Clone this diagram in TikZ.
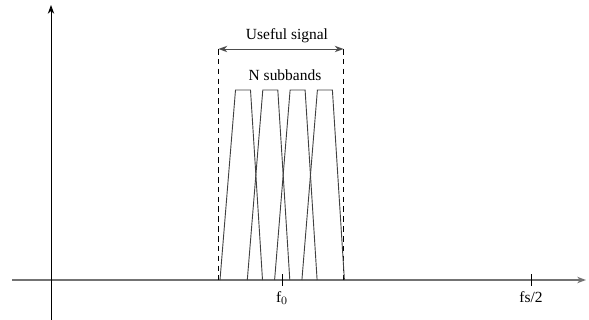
\documentclass[tikz,border=0pt]{standalone}
\usepackage{fontspec}
\setmainfont{Liberation Serif}
\usetikzlibrary{arrows.meta}

\begin{document}
\begin{tikzpicture}[x=0.025cm, y=-0.025cm, every node/.style={font=\fontsize{11}{13}\selectfont}, >={Stealth[length=2.2mm, width=1.6mm]}, band/.style={draw=black!75, line width=0.65pt, line join=miter}, lim/.style={dashed, line width=0.6pt, dash pattern=on 4pt off 3pt}]
	\useasboundingbox (0,0) rectangle (589,320);
	\coordinate (xs) at (12,280); \coordinate (xe) at (586,280); \coordinate (ys) at (51,320); \coordinate (ye) at (51,5);
	\coordinate (la) at (218.5,49); \coordinate (lb) at (218.5,280); \coordinate (ra) at (343.5,49); \coordinate (rb) at (343.5,280);
	\draw[->, black!55, line width=1pt] (xs) -- (xe);
	\draw[->, line width=0.6pt] (ys) -- (ye);
	\draw[lim] (la) -- (lb); \draw[lim] (ra) -- (rb);
	\draw[<->, black!70, line width=0.7pt] (la) -- (ra);
	\foreach \i in {0,1,2,3} {
		\draw[band] ({220+27.3*\i},280) -- ({235.5+27.3*\i},90) -- ({250.5+27.3*\i},90) -- ({262.5+27.3*\i},280);
	}
	\coordinate (t0) at (282,274); \coordinate (t0b) at (282,286); \coordinate (t1) at (531,274); \coordinate (t1b) at (531,286);
	\draw[line width=0.7pt] (t0) -- (t0b); \draw[line width=0.7pt] (t1) -- (t1b);
	\node (f0) at (282,298) {f$_0$};
	\node (fs) at (531,297) {fs/2};
	\node (useful) at (287,36) {Useful signal};
	\node (nsub) at (285,75) {N subbands};
\end{tikzpicture}
\end{document}
